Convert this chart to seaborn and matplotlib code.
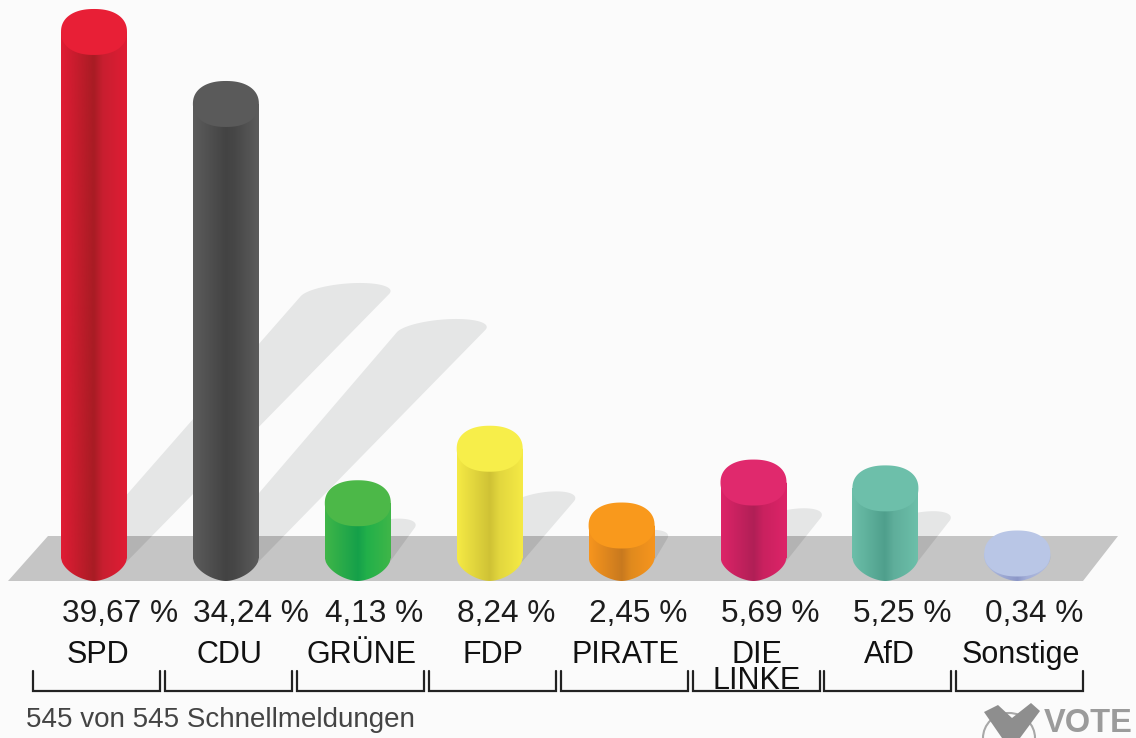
import numpy as np
import pandas as pd
import seaborn as sns
import matplotlib
matplotlib.use("Agg")
import matplotlib.pyplot as plt
from matplotlib.patches import Ellipse, Polygon, PathPatch
from matplotlib.path import Path
from matplotlib.colors import LinearSegmentedColormap

parties = ["SPD", "CDU", "GRÜNE", "FDP", "PIRATE", "DIE\nLINKE", "AfD", "Sonstige"]
values = [39.67, 34.24, 4.13, 8.24, 2.45, 5.69, 5.25, 0.34]
value_labels = ["39,67 %", "34,24 %", "4,13 %", "8,24 %", "2,45 %", "5,69 %", "5,25 %", "0,34 %"]
top_colors = ["#e81f36", "#5a5a5a", "#4cb848", "#f7ee4a", "#f9991c", "#e0296d", "#6dbfaa", "#b9c6e6"]
edge_colors = ["#e01c34", "#5c5c5c", "#3fb648", "#f5ea45", "#f7951d", "#dd2468", "#6cbfa9", "#b3bfe0"]
mid_colors = ["#c81f30", "#474747", "#22b04a", "#e2d63e", "#e08a1e", "#c9215f", "#5fae9b", "#a3aed8"]
dark_colors = ["#a81c24", "#434343", "#15a04a", "#cfc235", "#c8791f", "#b01f56", "#4f9f8c", "#8c97c8"]
footer = "545 von 545 Schnellmeldungen"

W, H = 1136, 738
PX_X, PX_Y = 131.9, 13.26          # pixels per category / per percent
X0_PX, Y0_PX = 94.0, 558.0         # pixel position of the origin
BAR_W = 66 / PX_X
ELL_H = 46 / PX_Y

def xd(px):
    return (px - X0_PX) / PX_X

def yd(py):
    return (Y0_PX - py) / PX_Y

sns.set_theme(style="white")
plt.rcParams["font.family"] = ["Liberation Sans", "DejaVu Sans"]
BG = "#fbfbfb"
fig = plt.figure(figsize=(W / 100, H / 100), dpi=100, facecolor="white")
ax = fig.add_axes([0, 0, 1, 1], facecolor=BG)

df = pd.DataFrame({"party": parties, "value": values})
sns.barplot(data=df, x="party", y="value", hue="party", order=parties, hue_order=parties,
            palette=edge_colors, width=BAR_W, saturation=1, legend=False, ax=ax, zorder=3,
            linewidth=0)

ground_xy = [(xd(8), yd(581)), (xd(1083), yd(581)), (xd(1118), yd(536)), (xd(48), yd(536))]
ax.add_patch(Polygon(ground_xy, closed=True, fc="#c5c5c5", ec="none", zorder=1.55))

def hull(pts):
    pts = sorted(map(tuple, pts))
    def half(seq):
        out = []
        for p in seq:
            while len(out) >= 2 and ((out[-1][0]-out[-2][0])*(p[1]-out[-2][1]) -
                                     (out[-1][1]-out[-2][1])*(p[0]-out[-2][0])) <= 0:
                out.pop()
            out.append(p)
        return out
    lo, up = half(pts), half(pts[::-1])
    return lo[:-1] + up[:-1]

t = np.linspace(0, 2 * np.pi, 90)
for i, v in enumerate(values):
    grow = min(1.0, v / 30)
    cx, cy = i + v * 6.58 / PX_X, v * 6.63 / PX_Y
    base = np.c_[i + (6.5 + 26.5 * np.cos(t)) / PX_X, (14 * np.sin(t)) / PX_Y]
    tip = np.c_[cx + (-10 * grow + (26 + 17 * grow) * np.cos(t) + 15 * np.sin(t)) / PX_X,
                cy + (12 * np.sin(t)) / PX_Y]
    h = hull(np.vstack([base, tip]))
    ax.add_patch(Polygon(h, closed=True, fc="#e5e6e6", ec="none", zorder=1.5))
    dark = Polygon(h, closed=True, fc="#b3b3b3", ec="none", zorder=1.6)
    ax.add_patch(dark)
    dark.set_clip_path(Polygon(ground_xy, closed=True, transform=ax.transData))

hw = BAR_W / 2
for i, v in enumerate(values):
    cmap = LinearSegmentedColormap.from_list(
        "c", [(0, edge_colors[i]), (0.5, dark_colors[i]), (0.64, mid_colors[i]), (1, edge_colors[i])])
    ramp = np.linspace(0, 1, 128)[None, :]
    ang = np.linspace(-1, 1, 61)
    foot = [(i + hw * a, -(ELL_H / 2) * (1 - abs(a) ** 1.7) ** (1 / 1.7)) for a in ang]
    path = Path([(i - hw, v)] + foot + [(i + hw, v), (i - hw, v)])
    im = ax.imshow(ramp, cmap=cmap, extent=[i - hw, i + hw, -ELL_H / 2, v], aspect="auto", zorder=4)
    im.set_clip_path(PathPatch(path, transform=ax.transData))
    c, s = np.cos(t), np.sin(t)
    lid = np.c_[i + hw * np.sign(c) * np.abs(c) ** (2 / 2.25),
                v + (ELL_H / 2) * np.sign(s) * np.abs(s) ** (2 / 2.25)]
    ax.add_patch(Polygon(lid, closed=True, fc=top_colors[i], ec="none", zorder=5))

# texts
for i, (lab, party) in enumerate(zip(value_labels, parties)):
    ax.text(i - 32.5 / PX_X, yd(614), lab, ha="left", va="center", fontsize=22.8, color="#1c1c1c", zorder=6)
    ax.text(i + 3.5 / PX_X, yd(640), party, ha="center", va="top", fontsize=22, color="#111111",
            linespacing=0.82, zorder=6)

# brackets
for i in range(len(parties)):
    l, r = i - 61 / PX_X, i + 66 / PX_X
    ax.plot([l, l, r, r], [yd(671), yd(691), yd(691), yd(671)], color="#222222", lw=1.6, zorder=6,
            solid_joinstyle="miter")

ax.text(xd(26), yd(720), footer, ha="left", va="center", fontsize=20, color="#444444", zorder=6)

# logo
ax.text(xd(1044), yd(732), "VOTE", ha="left", va="baseline", fontsize=23.5, fontweight="bold",
        color="#9b9b9b", zorder=6)
ax.add_patch(Ellipse((xd(1009), yd(738)), 52 / PX_X, 50 / PX_Y, fc="none", ec="#a8a8a8", lw=1.5, zorder=5.9))
ax.add_patch(Polygon([(xd(984), yd(712)), (xd(998), yd(705)), (xd(1012), yd(718)), (xd(1031), yd(703)),
                      (xd(1040), yd(711)), (xd(1020), yd(738)), (xd(1002), yd(738))],
                     closed=True, fc="#8e8e8e", ec="none", zorder=6))

ax.set_xlim(xd(0), xd(W))
ax.set_ylim(yd(H), yd(0))
ax.set_xticks([]); ax.set_yticks([])
ax.set_xlabel(""); ax.set_ylabel("")
for s in ax.spines.values():
    s.set_visible(False)
fig.savefig("out.png", dpi=100, facecolor="white")
